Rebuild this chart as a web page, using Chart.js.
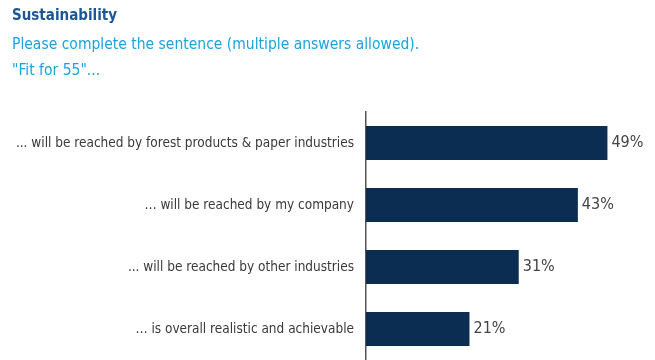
<!DOCTYPE html>
<html>
<head>
<meta charset="utf-8">
<script src="https://cdn.jsdelivr.net/npm/chart.js@4"></script>
<style>
  html, body { margin: 0; padding: 0; background: #fff; }
  #wrap { width: 655px; height: 360px; position: relative; }
</style>
</head>
<body>
<div id="wrap"><canvas id="fitChart"></canvas></div>
<script>
var categories = [
  '... will be reached by forest products & paper industries',
  '\u2026 will be reached by my company',
  '... will be reached by other industries',
  '\u2026 is overall realistic and achievable'
];
var shares = [49, 43, 31, 21];
var titleText = 'Sustainability';
var subtitleLines = ['Please complete the sentence (multiple answers allowed).', '"Fit for 55"...'];

var labelFont = "'Liberation Sans Narrow', 'DejaVu Sans Condensed', sans-serif";

// prints the percentage just past the end of each bar
var valueLabels = {
  id: 'valueLabels',
  afterDatasetsDraw: function (chart) {
    var c = chart.ctx;
    var meta = chart.getDatasetMeta(0);
    c.save();
    c.font = '16px ' + labelFont;
    c.fillStyle = '#444';
    c.textBaseline = 'middle';
    c.textAlign = 'left';
    meta.data.forEach(function (bar, i) {
      c.fillText(shares[i] + '%', bar.x + 4, bar.y);
    });
    c.restore();
  }
};

var ctx = document.getElementById('fitChart').getContext('2d');
var fitChart = new Chart(ctx, {
  type: 'bar',
  data: {
    labels: categories,
    datasets: [{
      data: shares,
      backgroundColor: '#0b2d52',
      borderWidth: 0,
      barPercentage: 0.55,
      categoryPercentage: 1
    }]
  },
  options: {
    indexAxis: 'y',
    responsive: true,
    maintainAspectRatio: false,
    animation: false,
    layout: { padding: { left: 12, right: 18, top: 7, bottom: 0 } },
    plugins: {
      legend: { display: false },
      tooltip: { enabled: false },
      title: {
        display: true,
        text: titleText,
        align: 'start',
        color: '#1b5696',
        font: { family: labelFont, size: 15, weight: 'bold', lineHeight: '19px' },
        padding: { top: 0, bottom: 6 }
      },
      subtitle: {
        display: true,
        text: subtitleLines,
        align: 'start',
        color: '#1aa3dc',
        font: { family: labelFont, size: 15.5, lineHeight: '26px' },
        padding: { top: 0, bottom: 28 }
      }
    },
    scales: {
      x: {
        display: false,
        min: 0,
        max: 55
      },
      y: {
        afterFit: function (scale) {
          scale.width = 354;
          // let the axis run the full height, no room kept for half labels
          scale.paddingTop = 0;
          scale.paddingBottom = 0;
        },
        grid: { display: false, drawTicks: false },
        border: { display: true, color: '#555', width: 1.5 },
        ticks: {
          color: '#3a3a3a',
          padding: 12,
          font: { family: labelFont, size: 13.5 }
        }
      }
    }
  },
  plugins: [valueLabels]
});
</script>
</body>
</html>
